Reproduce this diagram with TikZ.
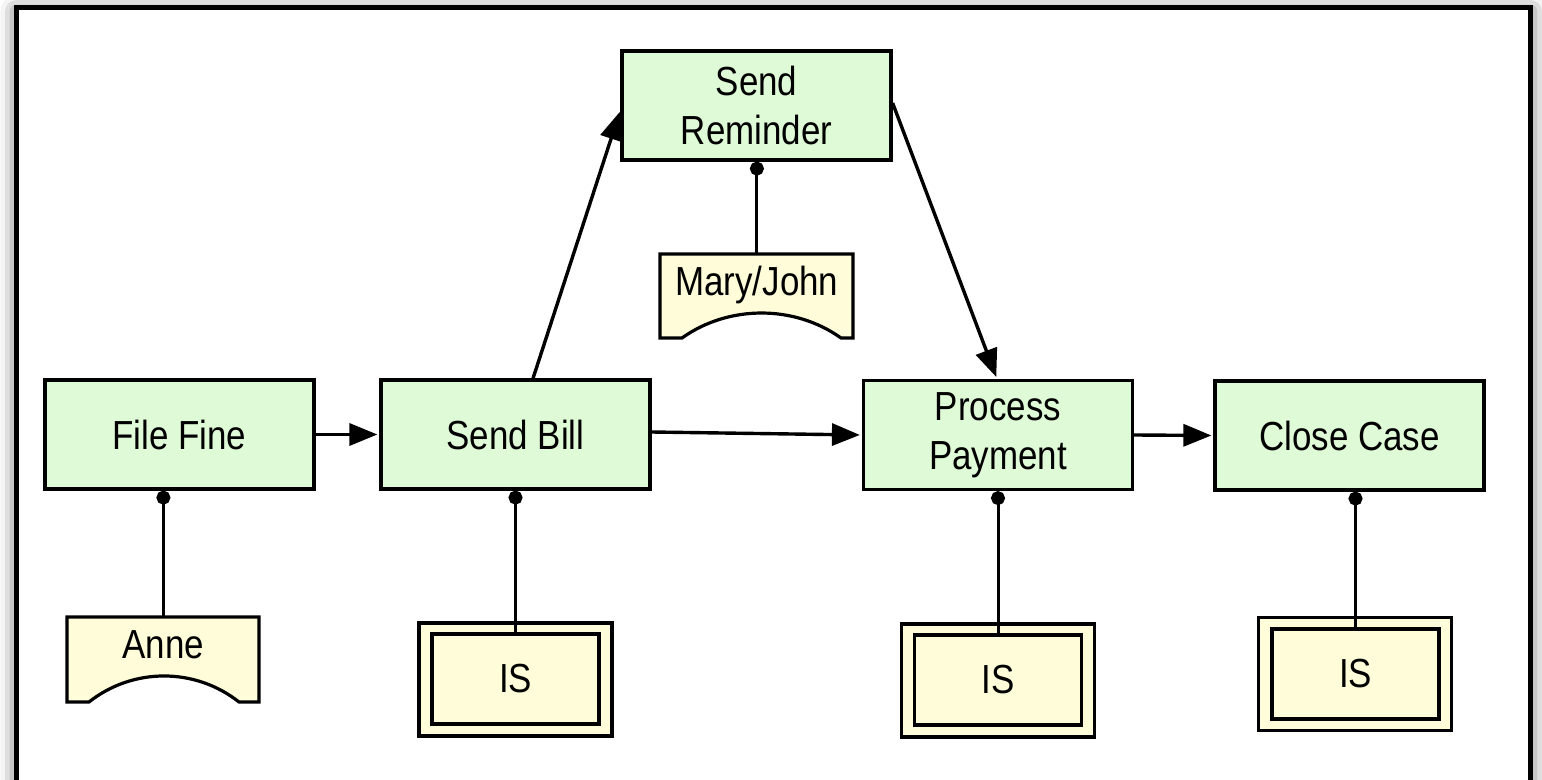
\documentclass[tikz,border=0pt]{standalone}
\usepackage{fontspec}
\setmainfont{Liberation Sans}[FakeStretch=0.86]
\usetikzlibrary{arrows.meta,shadows.blur,calc}
\definecolor{actfill}{RGB}{223,250,214}
\definecolor{resfill}{RGB}{255,252,217}
\begin{document}
\begin{tikzpicture}[x=0.5pt,y=-0.5pt,
  font=\fontsize{20.3}{24.5}\selectfont,
  act/.style={draw, line width=1.6pt, fill=actfill, minimum width=134.5pt, minimum height=54.5pt, inner sep=0pt, align=center},
  isouter/.style={draw, line width=1.6pt, fill=resfill, minimum width=96.5pt, minimum height=56.5pt, inner sep=0pt},
  isinner/.style={draw, line width=1.6pt, fill=resfill, minimum width=83.5pt, minimum height=45pt, inner sep=0pt},
  role/.style={inner sep=0pt, text width=96pt, align=center, text height=20.5pt, text depth=22pt},
  roleshape/.style={line width=1.6pt, fill=resfill},
  flow/.style={line width=1.7pt, -{Triangle[length=14pt,width=11pt,fill=black]}, shorten >=1pt},
  assoc/.style={line width=1.5pt, {Circle[length=7pt,fill=black]}-},
  frame/.style={line width=2.2pt, fill=white, blur shadow={shadow xshift=0pt, shadow yshift=-2pt, shadow blur radius=8pt, shadow opacity=70}},
]
\useasboundingbox (0,0) rectangle (1542,780);
\draw[frame] (16.5,7.5) rectangle (1530.5,820);

% role shapes
\draw[roleshape] (67,617) -- (259,617) -- (259,702) -- (239,702) .. controls (195,667.3) and (133,667.3) .. (89,702) -- (67,702) -- cycle;
\draw[roleshape] (660,254) -- (853,254) -- (853,338) -- (841,338) .. controls (794.4,304.7) and (728.6,304.7) .. (682,338) -- (660,338) -- cycle;

% activities
\node[act] (fileFine) at (179.5,434.5) {File Fine};
\node[act] (sendBill) at (515.5,434.5) {Send Bill};
\node[act] (sendReminder) at (756.5,105.5) {Send\\Reminder};
\node[act] (processPayment) at (998,435) {Process\\Payment};
\node[act] (closeCase) at (1349.5,435.5) {Close Case};

% roles
\node[role, anchor=north west] (anne) at (67,617) {Anne};
\node[role, anchor=north west, text depth=21.5pt, text width=96.5pt] (maryJohn) at (660,254) {Mary/John};

% IS
\node[isouter] (isBo) at (515.5,679.5) {};
\node[isinner] (isB) at (515.5,679) {IS};
\node[isouter] (isPo) at (998,680.5) {};
\node[isinner] (isP) at (998,680) {IS};
\node[isouter] (isCo) at (1355,674) {};
\node[isinner] (isC) at (1355.5,674) {IS};

% flows
\draw[flow] (fileFine.east) -- (sendBill.west);
\draw[flow] ([yshift=1.25pt]sendBill.east) -- (processPayment.west);
\draw[flow] ([xshift=8.75pt]sendBill.north) -- ([yshift=-2.25pt]sendReminder.west);
\draw[flow] ([yshift=1.25pt]sendReminder.east) -- ([xshift=-0.5pt]processPayment.north);
\draw[flow] (processPayment.east) -- (closeCase.west);

% associations
\draw[assoc] (anne.north |- fileFine.south) -- (anne.north);
\draw[assoc] (isB.north |- sendBill.south) -- (isB.north);
\draw[assoc] (maryJohn.north |- sendReminder.south) -- (maryJohn.north);
\draw[assoc] (isP.north |- processPayment.south) -- (isP.north);
\draw[assoc] (isC.north |- closeCase.south) -- (isC.north);
\end{tikzpicture}
\end{document}
